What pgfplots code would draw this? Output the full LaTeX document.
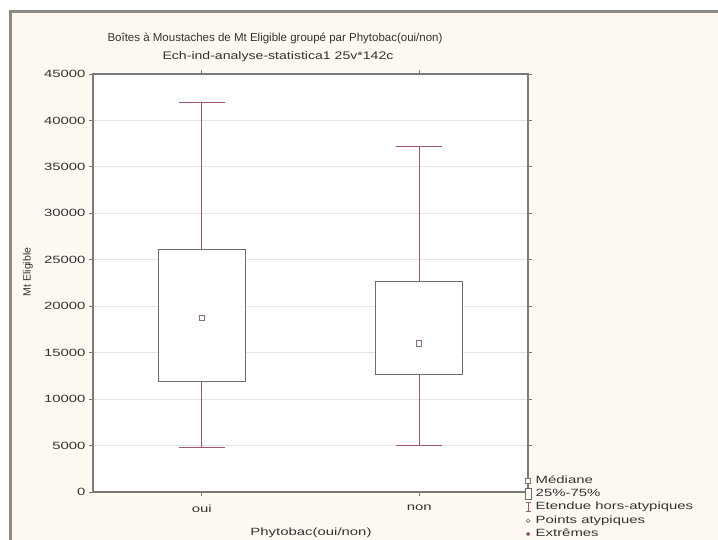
\documentclass[border=0pt]{standalone}
\usepackage{pgfplots}
\pgfplotsset{compat=1.18}
\usepackage{fontspec}
\setmainfont{Liberation Sans}
\newfontfamily\widefont[FakeStretch=1.42]{Liberation Sans}
\newfontfamily\midfont[FakeStretch=1.28]{Liberation Sans}

\definecolor{bgpanel}{HTML}{FDF8F0}
\definecolor{framegray}{HTML}{8C8882}
\definecolor{whisk}{HTML}{A0566B}
\definecolor{medcol}{HTML}{8E6A74}
\definecolor{boxgray}{HTML}{6E6E6E}
\definecolor{gridgray}{HTML}{E4E4E4}
\definecolor{axisgray}{HTML}{7A7A7A}
\definecolor{txt}{HTML}{333333}
\definecolor{extcol}{HTML}{8B4A5A}

\begin{document}
\begin{tikzpicture}
\useasboundingbox (0pt,0pt) rectangle (718pt,540pt);
\fill[white] (0pt,0pt) rectangle (718pt,540pt);
% window panel with its border
\fill[bgpanel] (10.5pt,528pt) rectangle (730pt,-10pt);
\draw[framegray, line width=3pt] (10.5pt,-10pt) -- (10.5pt,528pt) -- (730pt,528pt);

% titles
\node[font=\fontsize{11.5}{13}\selectfont, text=txt] at (275pt,502pt)
  {Boîtes à Moustaches de Mt Eligible groupé par Phytobac(oui/non)};
\node[font=\midfont\fontsize{11}{13}\selectfont, text=txt] at (278pt,483pt)
  {Ech-ind-analyse-statistica1 25v*142c};

% axis labels
\node[rotate=90, font=\fontsize{10.5}{12}\selectfont, text=txt] at (28pt,268pt) {Mt Eligible};
\node[font=\widefont\fontsize{10.5}{12}\selectfont, text=txt] at (311pt,7pt) {Phytobac(oui/non)};

\begin{axis}[
  at={(93pt,48pt)}, anchor=south west,
  scale only axis, width=435pt, height=418pt,
  xmin=-0.5, xmax=1.5, ymin=0, ymax=45000,
  xtick={0,1}, xticklabels={oui,non},
  ytick={0,5000,...,45000},
  scaled y ticks=false,
  yticklabel style={/pgf/number format/1000 sep={}},
  xticklabel style={yshift=-5pt},
  /pgf/number format/assume math mode=true,
  tick label style={font=\widefont\fontsize{10.5}{12}\selectfont, text=txt},
  ymajorgrids, grid style={gridgray, line width=0.8pt},
  axis line style={axisgray, line width=1.2pt},
  tick style={axisgray, line width=0.8pt},
  tick align=outside, tick pos=both, major tick length=4pt,
  axis background/.style={fill=white},
  unbounded coords=jump,
  legend cell align=left,
  legend style={draw=none, fill=none, at={(0.992,0.044)}, anchor=north west,
    font=\widefont\fontsize{10.5}{12}\selectfont, text=txt,
    inner sep=0pt, row sep=0pt,
    nodes={text height=7.8pt, text depth=2.8pt, inner sep=1.4pt}},
]

% oui: whiskers 4800 / 41900, quartiles 11900 / 26100, median 18700
\addplot[forget plot, whisk, line width=1pt] coordinates {
  (0,11900) (0,4800) (nan,nan) (-0.105,4800) (0.105,4800) (nan,nan)
  (0,26100) (0,41900) (nan,nan) (-0.105,41900) (0.105,41900)};
\addplot[forget plot, boxgray, line width=1pt, fill=white] coordinates {
  (-0.2,11900) (0.2,11900) (0.2,26100) (-0.2,26100)} -- cycle;
\addplot[forget plot, only marks, mark=square*, mark size=2.6pt,
  mark options={draw=medcol, fill=white, line width=0.8pt}] coordinates {(0,18700)};

% non: whiskers 5000 / 37200, quartiles 12700 / 22700, median 16000
\addplot[forget plot, whisk, line width=1pt] coordinates {
  (1,12700) (1,5000) (nan,nan) (0.895,5000) (1.105,5000) (nan,nan)
  (1,22700) (1,37200) (nan,nan) (0.895,37200) (1.105,37200)};
\addplot[forget plot, boxgray, line width=1pt, fill=white] coordinates {
  (0.8,12700) (1.2,12700) (1.2,22700) (0.8,22700)} -- cycle;
\addplot[forget plot, only marks, mark=square*, mark size=2.6pt,
  mark options={draw=medcol, fill=white, line width=0.8pt}] coordinates {(1,16000)};

\addlegendimage{legend image code/.code={
  \draw[medcol, line width=0.7pt, fill=white] (1.5pt,-2.5pt) rectangle (6.5pt,2.5pt);
  \path (10pt,0pt);}}
\addlegendentry{Médiane}
\addlegendimage{legend image code/.code={
  \draw[boxgray, line width=0.8pt, fill=white] (1pt,-5.5pt) rectangle (7pt,5.5pt);
  \path (10pt,0pt);}}
\addlegendentry{25\%-75\%}
\addlegendimage{legend image code/.code={
  \draw[whisk, line width=0.8pt] (1.5pt,-4.5pt) -- (6.5pt,-4.5pt)
     (4pt,-4.5pt) -- (4pt,4.5pt) (1.5pt,4.5pt) -- (6.5pt,4.5pt);
  \path (10pt,0pt);}}
\addlegendentry{Etendue hors-atypiques}
\addlegendimage{legend image code/.code={
  \draw[boxgray, line width=0.6pt] (4pt,0pt) circle (1.8pt);
  \path (10pt,0pt);}}
\addlegendentry{Points atypiques}
\addlegendimage{legend image code/.code={
  \fill[extcol] (4pt,0pt) circle (1.7pt);
  \path (10pt,0pt);}}
\addlegendentry{Extrêmes}
\end{axis}
\end{tikzpicture}
\end{document}
